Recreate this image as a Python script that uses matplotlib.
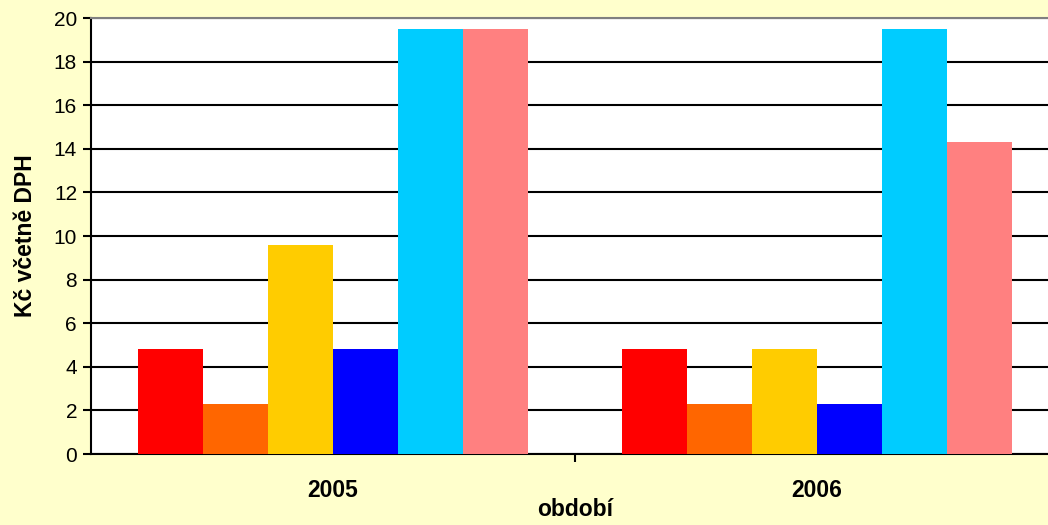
import numpy as np
import matplotlib
matplotlib.use('Agg')
import matplotlib.pyplot as plt

plt.rcParams['font.family'] = ['Liberation Sans', 'DejaVu Sans']

# data
periods = ['2005', '2006']
series = [
    [4.8, 4.8],
    [2.3, 2.3],
    [9.6, 4.8],
    [4.8, 2.3],
    [19.5, 19.5],
    [19.5, 14.3],
]
colors = ['#FF0000', '#FF6600', '#FFCC00', '#0000FF', '#00CCFF', '#FF8080']

fig = plt.figure(figsize=(10.48, 5.25), dpi=100)
fig.patch.set_facecolor('#FFFFCC')
ax = fig.add_axes([91 / 1048, 71 / 525, 968 / 1048, 436 / 525])
ax.set_facecolor('white')

x = np.arange(len(periods))
w = 0.134
for i, vals in enumerate(series):
    ax.bar(x + (i - 2.5) * w, vals, width=w, color=colors[i], zorder=3)

ax.set_xlim(-0.5, 1.5)
ax.set_ylim(0, 20)
ax.set_yticks(np.arange(0, 21, 2))
ax.yaxis.grid(True, color='black', linewidth=1.5, zorder=1)
ax.set_axisbelow(True)

# boundary tick between the groups, labels centred on the groups
ax.set_xticks([0.5], minor=False)
ax.set_xticklabels([])
ax.set_xticks(x, minor=True)
ax.set_xticklabels(periods, minor=True, fontsize=16.5, fontweight='bold')
ax.tick_params(axis='x', which='minor', length=0, pad=18)
ax.tick_params(axis='x', which='major', length=6, width=1.5, direction='out')
ax.tick_params(axis='y', length=6, width=1.5, labelsize=15, pad=4)

for s in ['left', 'bottom']:
    ax.spines[s].set_color('black')
    ax.spines[s].set_linewidth(1.5)
ax.spines['top'].set_color('#808080')
ax.spines['top'].set_linewidth(1.5)
ax.spines['right'].set_visible(False)

ax.set_ylabel('Kč včetně DPH', fontsize=16.5, fontweight='bold', labelpad=12)
# x label sits close to the bottom edge, place it by hand
fig.text(575 / 1048, 1 - 510 / 525, 'období', fontsize=16.5, fontweight='bold',
         ha='center', va='center')

fig.savefig('out.png', dpi=100, facecolor=fig.get_facecolor())
